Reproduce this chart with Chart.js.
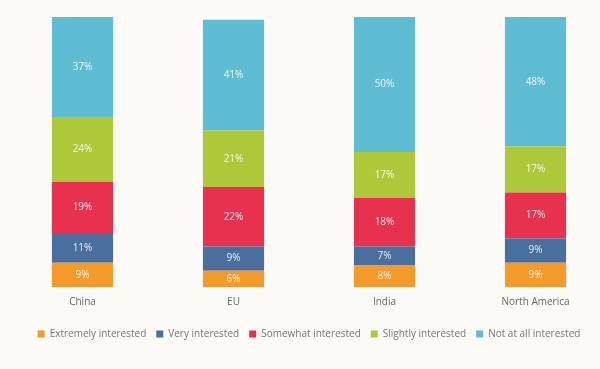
<!DOCTYPE html>
<html>
<head>
<meta charset="utf-8">
<script src="https://cdn.jsdelivr.net/npm/chart.js@4.4.0/dist/chart.umd.min.js"></script>
<style>
  html, body { margin: 0; padding: 0; background: #fbfaf7; overflow: hidden; }
  #wrap { position: relative; width: 612px; height: 369px; }
</style>
</head>
<body>
<div id="wrap"><canvas id="interestChart"></canvas></div>
<script>
// Données
const regions = ['China', 'EU', 'India', 'North America'];
const extremely = [9, 6, 8, 9];
const very = [11, 9, 7, 9];
const somewhat = [19, 22, 18, 17];
const slightly = [24, 21, 17, 17];
const notAtAll = [37, 41, 50, 48];

// Étiquettes de pourcentage au centre de chaque segment
const segmentLabels = {
    id: 'segmentLabels',
    afterDatasetsDraw(chart) {
        const ctx = chart.ctx;
        ctx.save();
        ctx.font = '10px "Open Sans"';
        ctx.textAlign = 'center';
        ctx.textBaseline = 'middle';
        ctx.fillStyle = 'rgba(255,255,255,0.88)';
        chart.data.datasets.forEach((ds, i) => {
            chart.getDatasetMeta(i).data.forEach((bar, j) => {
                const p = bar.getProps(['x', 'y', 'base'], true);
                ctx.fillText(ds.data[j] + '%', p.x, (p.y + p.base) / 2);
            });
        });
        ctx.restore();
    }
};

const canvas = document.getElementById('interestChart');
if (canvas) {
    new Chart(canvas, {
        type: 'bar',
        data: {
            labels: regions,
            datasets: [
                { label: 'Extremely interested', data: extremely, backgroundColor: '#f49a2b' },
                { label: 'Very interested', data: very, backgroundColor: '#4a6e9e' },
                { label: 'Somewhat interested', data: somewhat, backgroundColor: '#e8314f' },
                { label: 'Slightly interested', data: slightly, backgroundColor: '#adc93a' },
                { label: 'Not at all interested', data: notAtAll, backgroundColor: '#5ebdd3' }
            ]
        },
        options: {
            responsive: true,
            maintainAspectRatio: false,
            animation: false,
            layout: { padding: { left: 7, right: 1, top: 17, bottom: 20 } },
            datasets: { bar: { barPercentage: 0.405, categoryPercentage: 1.0 } },
            scales: {
                x: {
                    stacked: true,
                    grid: { display: false },
                    border: { display: false },
                    ticks: { color: '#666', font: { family: 'Open Sans', size: 10 }, padding: 1 },
                    afterFit: (scale) => { scale.height += 10; } // espace entre les noms et la légende
                },
                y: {
                    stacked: true,
                    display: false,
                    min: 0,
                    max: 100
                }
            },
            plugins: {
                legend: {
                    position: 'bottom',
                    labels: {
                        boxWidth: 7,
                        boxHeight: 7,
                        padding: 10,
                        color: '#777',
                        font: { family: 'Open Sans', size: 10 }
                    }
                },
                tooltip: { enabled: false }
            }
        },
        plugins: [segmentLabels]
    });
}
</script>
</body>
</html>
